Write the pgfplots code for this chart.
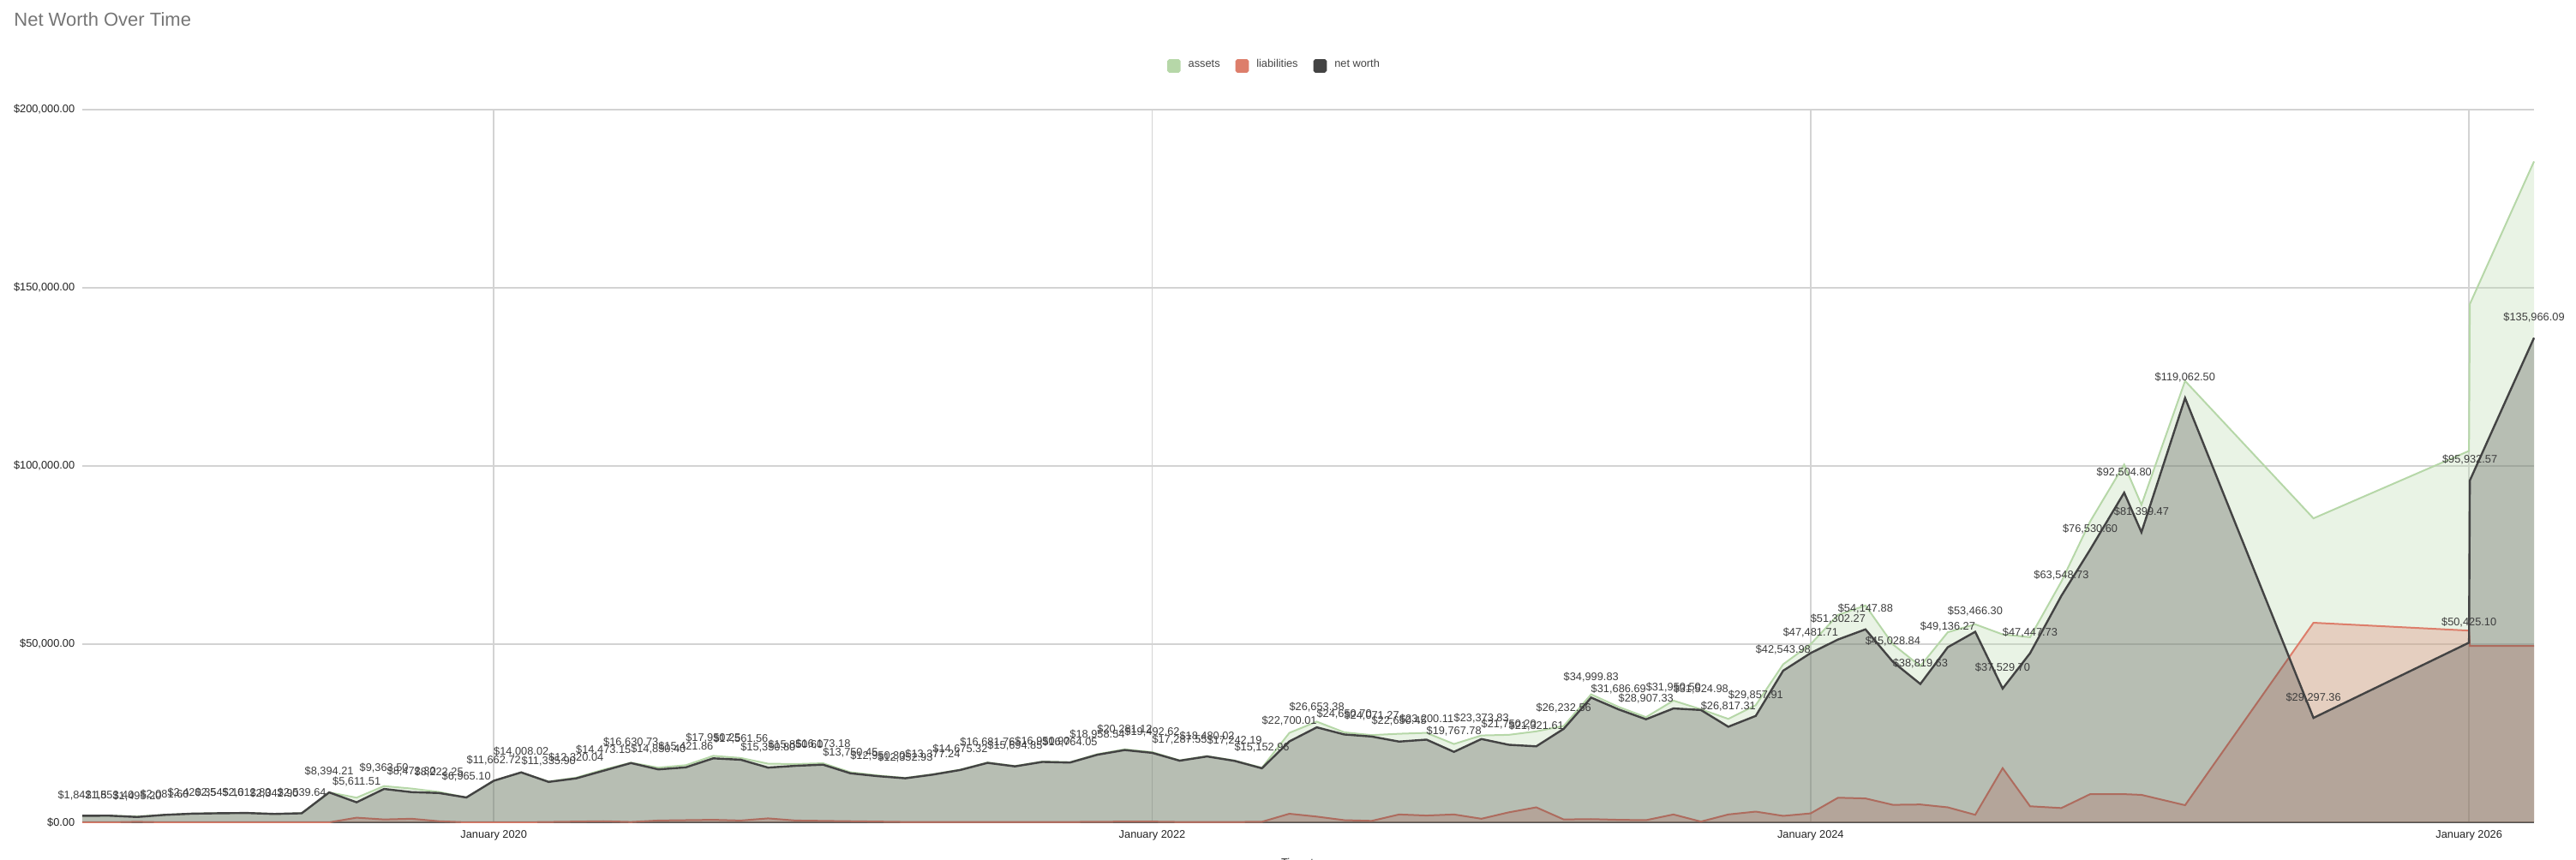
\documentclass[border=0pt]{standalone}
\usepackage{pgfplots}
\pgfplotsset{compat=1.18}
\usepackage{pgfplotstable}
\usepackage{fontspec}
\setmainfont{Liberation Sans}
\definecolor{assetc}{HTML}{B6D7A8}
\definecolor{liabc}{HTML}{DD7E6B}
\definecolor{nwc}{HTML}{434343}
\definecolor{gridc}{HTML}{D3D3D3}
\definecolor{axisc}{HTML}{555555}
\definecolor{titlec}{HTML}{757575}
\definecolor{tickc}{HTML}{222222}
\definecolor{labc}{HTML}{3C3C3C}
\definecolor{legc}{HTML}{444444}

\pgfplotstableread{
m nw liab assets lab
-15 1842.15 0 1842.15 1,842.15
-14 1853.40 0 1853.40 1,853.40
-13 1495.20 150 1645.20 1,495.20
-12 2081.60 0 2081.60 2,081.60
-11 2420.35 0 2420.35 2,420.35
-10 2545.10 0 2545.10 2,545.10
-9 2612.80 0 2612.80 2,612.80
-8 2342.90 0 2342.90 2,342.90
-7 2539.64 0 2539.64 2,539.64
-6 8394.21 0 8394.21 8,394.21
-5 5611.51 1300 6911.51 5,611.51
-4 9363.50 800 10163.50 9,363.50
-3 8472.30 1000 9472.30 8,472.30
-2 8222.25 300 8522.25 8,222.25
-1 6965.10 0 6965.10 6,965.10
0 11662.72 0 11662.72 11,662.72
1 14008.02 0 14008.02 14,008.02
2 11335.90 100 11435.90 11,335.90
3 12320.04 200 12520.04 12,320.04
4 14473.15 300 14773.15 14,473.15
5 16630.73 100 16730.73 16,630.73
6 14850.40 500 15350.40 14,850.40
7 15421.86 600 16021.86 15,421.86
8 17950.25 700 18650.25 17,950.25
9 17561.56 500 18061.56 17,561.56
10 15350.80 1100 16450.80 15,350.80
11 15850.60 500 16350.60 15,850.60
12 16173.18 400 16573.18 16,173.18
13 13750.45 300 14050.45 13,750.45
14 12950.30 200 13150.30 12,950.30
15 12352.93 100 12452.93 12,352.93
16 13377.24 100 13477.24 13,377.24
17 14675.32 100 14775.32 14,675.32
18 16681.76 100 16781.76 16,681.76
19 15694.85 100 15794.85 15,694.85
20 16950.90 100 17050.90 16,950.90
21 16764.05 100 16864.05 16,764.05
22 18958.54 150 19108.54 18,958.54
23 20281.12 200 20481.12 20,281.12
24 19492.62 200 19692.62 19,492.62
25 17287.55 100 17387.55 17,287.55
26 18480.02 100 18580.02 18,480.02
27 17242.19 100 17342.19 17,242.19
28 15152.96 150 15302.96 15,152.96
29 22700.01 2400 25100.01 22,700.01
30 26653.38 1600 28253.38 26,653.38
31 24650.70 600 25250.70 24,650.70
32 24071.27 400 24471.27 24,071.27
33 22650.45 2200 24850.45 22,650.45
34 23200.11 1900 25100.11 23,200.11
35 19767.78 2200 21967.78 19,767.78
36 23373.83 1000 24373.83 23,373.83
37 21750.20 2800 24550.20 21,750.20
38 21321.61 4200 25521.61 21,321.61
39 26232.56 800 27032.56 26,232.56
40 34999.83 900 35899.83 34,999.83
41 31686.69 700 32386.69 31,686.69
42 28907.33 600 29507.33 28,907.33
43 31950.50 2200 34150.50 31,950.50
44 31524.98 200 31724.98 31,524.98
45 26817.31 2200 29017.31 26,817.31
46 29857.91 3000 32857.91 29,857.91
47 42543.98 1800 44343.98 42,543.98
48 47481.71 2500 49981.71 47,481.71
49 51302.27 6900 58202.27 51,302.27
50 54147.88 6700 60847.88 54,147.88
51 45028.84 4900 49928.84 45,028.84
52 38819.63 5000 43819.63 38,819.63
53 49136.27 4200 53336.27 49,136.27
54 53466.30 2100 55566.30 53,466.30
55 37529.70 15200 52729.70 37,529.70
56 47447.73 4500 51947.73 47,447.73
57.14 63548.73 4000 67548.73 63,548.73
58.19 76530.60 7900 84430.60 76,530.60
59.43 92504.80 7900 100404.80 92,504.80
60.06 81399.47 7700 89099.47 81,399.47
61.65 119062.50 4800 123862.50 119,062.50
66.33 29297.36 56000 85297.36 29,297.36
72 50425.10 53800 104225.10 50,425.10
72.03 95932.57 49500 145432.57 95,932.57
74.37 135966.09 49500 185466.09 135,966.09
}\nwdata

\begin{document}
\begin{tikzpicture}
\useasboundingbox (0,0) rectangle (751.5pt,251pt);
\node[anchor=base west, font=\fontsize{5.5pt}{6.6pt}\selectfont, text=titlec, inner sep=0pt] at (3.9pt,243.3pt) {Net Worth Over Time};
\begin{axis}[
  scale only axis, width=715.25pt, height=208pt,
  at={(24pt,11pt)}, anchor=south west,
  xmin=-15, xmax=74.37, ymin=0, ymax=200000,
  axis line style={draw=none},
  major tick length=0pt,
  xtick={0,24,48,72},
  xticklabels={January 2020,January 2022,January 2024,January 2026},
  ytick={0,50000,100000,150000,200000},
  yticklabels={{\$0.00},{\$50,000.00},{\$100,000.00},{\$150,000.00},{\$200,000.00}},
  scaled y ticks=false,
  grid=major,
  major grid style={gridc, line width=0.4pt},
  extra y ticks={0}, extra y tick labels={},
  extra y tick style={major grid style={axisc, line width=0.5pt}},
  tick label style={font=\fontsize{3.2pt}{3.84pt}\selectfont, text=tickc, inner sep=0pt},
  yticklabel style={xshift=-2pt},
  xticklabel style={yshift=-2.25pt},
  clip=false,
  legend style={at={(0.48584,1.0613)}, anchor=center, draw=none, fill=none, inner sep=0pt,
    font=\fontsize{3.2pt}{3.84pt}\selectfont, text=legc, legend columns=3,
    /tikz/every odd column/.append style={column sep=2.25pt},
    /tikz/every even column/.append style={column sep=4.5pt},
    nodes={inner sep=0pt}},
  legend cell align=left,
]
\addlegendimage{legend image code/.code={\fill[assetc, rounded corners=0.4pt] (0pt,-1.75pt) rectangle (3.5pt,1.75pt);}}
\addlegendentry{assets}
\addlegendimage{legend image code/.code={\fill[liabc, rounded corners=0.4pt] (0pt,-1.75pt) rectangle (3.5pt,1.75pt);}}
\addlegendentry{liabilities}
\addlegendimage{legend image code/.code={\fill[nwc, rounded corners=0.4pt] (0pt,-1.75pt) rectangle (3.5pt,1.75pt);}}
\addlegendentry{net worth}

\addplot[draw=none, fill=assetc, fill opacity=0.3, forget plot] table[x=m, y=assets] {\nwdata} \closedcycle;
\addplot[assetc, line width=0.5pt, forget plot] table[x=m, y=assets] {\nwdata};
\addplot[draw=none, fill=liabc, fill opacity=0.3, forget plot] table[x=m, y=liab] {\nwdata} \closedcycle;
\addplot[liabc, line width=0.5pt, forget plot] table[x=m, y=liab] {\nwdata};
\addplot[draw=none, fill=nwc, fill opacity=0.3, forget plot] table[x=m, y=nw] {\nwdata} \closedcycle;
\addplot[nwc, line width=0.6pt, forget plot,
  nodes near coords={\$\pgfplotspointmeta}, point meta=explicit symbolic,
  every node near coord/.append style={font=\fontsize{3.2pt}{3.84pt}\selectfont, text=labc, anchor=center, yshift=6pt, inner sep=0pt}]
  table[x=m, y=nw, meta=lab] {\nwdata};
\end{axis}
\node[anchor=north, font=\fontsize{3.2pt}{3.84pt}\selectfont, text=tickc, inner sep=0pt] at (381.6pt,0.75pt) {Timestamp};
\end{tikzpicture}
\end{document}
